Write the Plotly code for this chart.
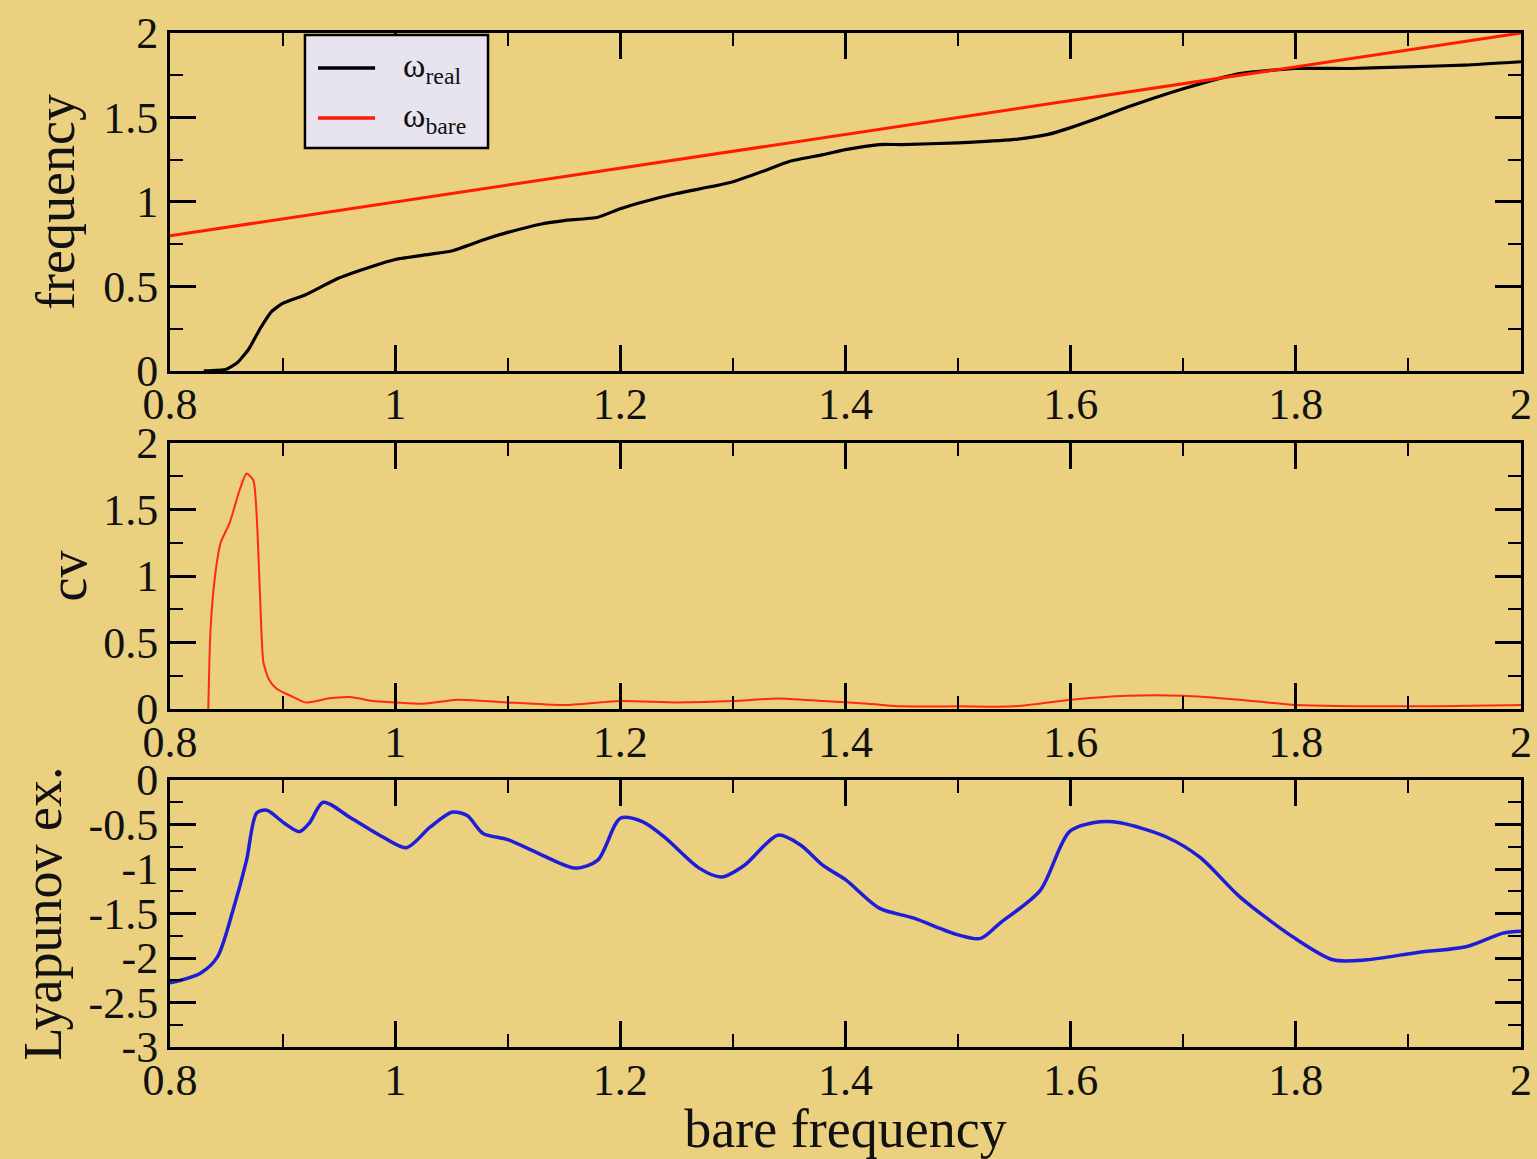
import plotly.graph_objects as go
from plotly.subplots import make_subplots

# ---- data ----
real_x = [0.83, 0.85, 0.86, 0.87, 0.88, 0.89, 0.90, 0.92, 0.95, 0.98, 1.00, 1.03, 1.05, 1.08,
          1.10, 1.13, 1.15, 1.18, 1.20, 1.22, 1.25, 1.28, 1.30, 1.33, 1.35, 1.38, 1.40, 1.43,
          1.45, 1.50, 1.55, 1.58, 1.60, 1.63, 1.65, 1.70, 1.75, 1.80, 1.85, 1.90, 1.95, 2.00]
real_y = [0.00, 0.01, 0.05, 0.13, 0.25, 0.35, 0.40, 0.45, 0.55, 0.62, 0.66, 0.69, 0.71, 0.78,
          0.82, 0.87, 0.89, 0.91, 0.96, 1.00, 1.05, 1.09, 1.12, 1.19, 1.24, 1.28, 1.31, 1.34,
          1.34, 1.35, 1.37, 1.40, 1.44, 1.51, 1.56, 1.67, 1.76, 1.79, 1.79, 1.80, 1.81, 1.83]

bare_x = [0.8, 2.0]
bare_y = [0.8, 2.0]

cv_x = [0.834, 0.836, 0.840, 0.845, 0.853, 0.862, 0.868, 0.874, 0.877, 0.880, 0.883, 0.888,
        0.895, 0.907, 0.920, 0.930, 0.940, 0.960, 0.980, 1.000, 1.025, 1.055, 1.080, 1.100,
        1.150, 1.200, 1.250, 1.300, 1.340, 1.380, 1.420, 1.450, 1.500, 1.550, 1.600, 1.650,
        1.700, 1.750, 1.800, 1.900, 2.000]
cv_y = [0.00, 0.60, 1.00, 1.25, 1.40, 1.65, 1.77, 1.72, 1.45, 0.85, 0.35, 0.22,
        0.15, 0.10, 0.05, 0.06, 0.08, 0.09, 0.06, 0.05, 0.04, 0.07, 0.06, 0.05,
        0.03, 0.06, 0.05, 0.06, 0.08, 0.06, 0.04, 0.02, 0.02, 0.02, 0.07, 0.10,
        0.10, 0.07, 0.03, 0.02, 0.03]

lyap_x = [0.800, 0.827, 0.842, 0.856, 0.868, 0.877, 0.886, 0.901, 0.915, 0.924, 0.936, 0.960,
          0.989, 1.010, 1.031, 1.051, 1.064, 1.078, 1.100, 1.130, 1.160, 1.180, 1.200, 1.220,
          1.240, 1.270, 1.290, 1.310, 1.340, 1.360, 1.380, 1.400, 1.430, 1.460, 1.500, 1.520,
          1.537, 1.573, 1.599, 1.626, 1.644, 1.685, 1.715, 1.750, 1.797, 1.833, 1.863, 1.907,
          1.952, 1.984, 2.000]
lyap_y = [-2.28, -2.17, -1.99, -1.46, -0.90, -0.37, -0.34, -0.48, -0.58, -0.48, -0.25, -0.42,
          -0.64, -0.76, -0.53, -0.36, -0.40, -0.60, -0.67, -0.84, -0.99, -0.90, -0.43, -0.47,
          -0.65, -0.99, -1.09, -0.96, -0.62, -0.73, -0.96, -1.12, -1.44, -1.55, -1.74, -1.78,
          -1.61, -1.24, -0.58, -0.47, -0.48, -0.64, -0.87, -1.31, -1.76, -2.02, -2.02, -1.94,
          -1.87, -1.72, -1.70]

x_ticks = [0.8, 1.0, 1.2, 1.4, 1.6, 1.8, 2.0]
x_labels = ["0.8", "1", "1.2", "1.4", "1.6", "1.8", "2"]

legend_names = ["ω<sub>real</sub>", "ω<sub>bare</sub>"]
legend_colors = ["black", "#FF1A00"]

BG = "#EAD07F"
FONT = "Liberation Serif"
TXT = "#111111"

fig = make_subplots(rows=3, cols=1)

fig.add_trace(go.Scatter(x=real_x, y=real_y, mode="lines", name=legend_names[0],
                         line=dict(color=legend_colors[0], width=3.2, shape="spline",
                                   smoothing=0.5)),
              row=1, col=1)
fig.add_trace(go.Scatter(x=bare_x, y=bare_y, mode="lines", name=legend_names[1],
                         line=dict(color=legend_colors[1], width=3)), row=1, col=1)
fig.add_trace(go.Scatter(x=cv_x, y=cv_y, mode="lines", name="cv",
                         line=dict(color="#FF2A10", width=2, shape="spline", smoothing=0.6)),
              row=2, col=1)
fig.add_trace(go.Scatter(x=lyap_x, y=lyap_y, mode="lines", name="Lyapunov ex.",
                         line=dict(color="#1E1ED8", width=3.5, shape="spline", smoothing=0.8)),
              row=3, col=1)

fig.update_xaxes(range=[0.8, 2.0], tickvals=x_ticks, ticktext=x_labels, ticks="inside",
                 ticklen=26, tickwidth=2.5, tickcolor="black", showline=True, linecolor="black",
                 linewidth=3, mirror="allticks", showgrid=False, zeroline=False,
                 tickfont=dict(family=FONT, size=44, color=TXT), ticklabelstandoff=-8,
                 minor=dict(dtick=0.1, tick0=0.8, ticks="inside", ticklen=13, tickwidth=2,
                            tickcolor="black", showgrid=False),
                 domain=[0, 1])

ytick_common = dict(ticks="inside", ticklen=26, tickwidth=2.5, tickcolor="black",
                    showline=True, linecolor="black", linewidth=3, mirror="allticks",
                    showgrid=False, zeroline=False,
                    tickfont=dict(family=FONT, size=44, color=TXT),
                    minor=dict(dtick=0.25, tick0=0, ticks="inside", ticklen=13, tickwidth=2,
                               tickcolor="black"))

fig.update_yaxes(row=1, col=1, range=[0, 2], tickvals=[0, 0.5, 1, 1.5, 2],
                 ticktext=["0", "0.5", "1", "1.5", "2"], domain=[0.6667, 1.0],
                 title=dict(text="frequency", font=dict(family=FONT, size=54, color=TXT),
                            standoff=12),
                 **ytick_common)
fig.update_yaxes(row=2, col=1, range=[0, 2], tickvals=[0, 0.5, 1, 1.5, 2],
                 ticktext=["0", "0.5", "1", "1.5", "2"], domain=[0.3333, 0.5957],
                 title=dict(text="cv", font=dict(family=FONT, size=54, color=TXT),
                            standoff=0),
                 **ytick_common)
fig.update_yaxes(row=3, col=1, range=[-3, 0],
                 tickvals=[0, -0.5, -1, -1.5, -2, -2.5, -3],
                 ticktext=["0", "-0.5", "-1", "-1.5", "-2", "-2.5", "-3"], domain=[0.0, 0.2633],
                 title=dict(text="Lyapunov ex.", font=dict(family=FONT, size=54, color=TXT),
                            standoff=10),
                 **ytick_common)

fig.update_xaxes(row=3, col=1,
                 title=dict(text="bare frequency", font=dict(family=FONT, size=54, color=TXT),
                            standoff=0))

# ---- custom legend box (plot-area paper coordinates) ----
fig.add_shape(type="rect", xref="paper", yref="paper", x0=0.0999, x1=0.2354,
              y0=0.8866, y1=0.998, fillcolor="#E7E3EF",
              line=dict(color="black", width=2.5))
legend_rows_y = [0.9655, 0.9162]
for name, color, yy in zip(legend_names, legend_colors, legend_rows_y):
    fig.add_shape(type="line", xref="paper", yref="paper", x0=0.1096, x1=0.1518,
                  y0=yy, y1=yy, line=dict(color=color, width=3.5))
    fig.add_annotation(xref="paper", yref="paper", x=0.171, y=yy, xanchor="left",
                       yanchor="middle", text=name, showarrow=False,
                       font=dict(family=FONT, size=34, color=TXT))

fig.update_layout(
    width=1537, height=1159,
    margin=dict(l=170, r=16, t=33, b=112, autoexpand=False),
    paper_bgcolor=BG, plot_bgcolor=BG,
    font=dict(family=FONT, color=TXT),
    showlegend=False,
)

fig.write_html("out.html", config={"displayModeBar": False},
               post_script="document.body.style.margin='0';document.body.style.padding='0';")
